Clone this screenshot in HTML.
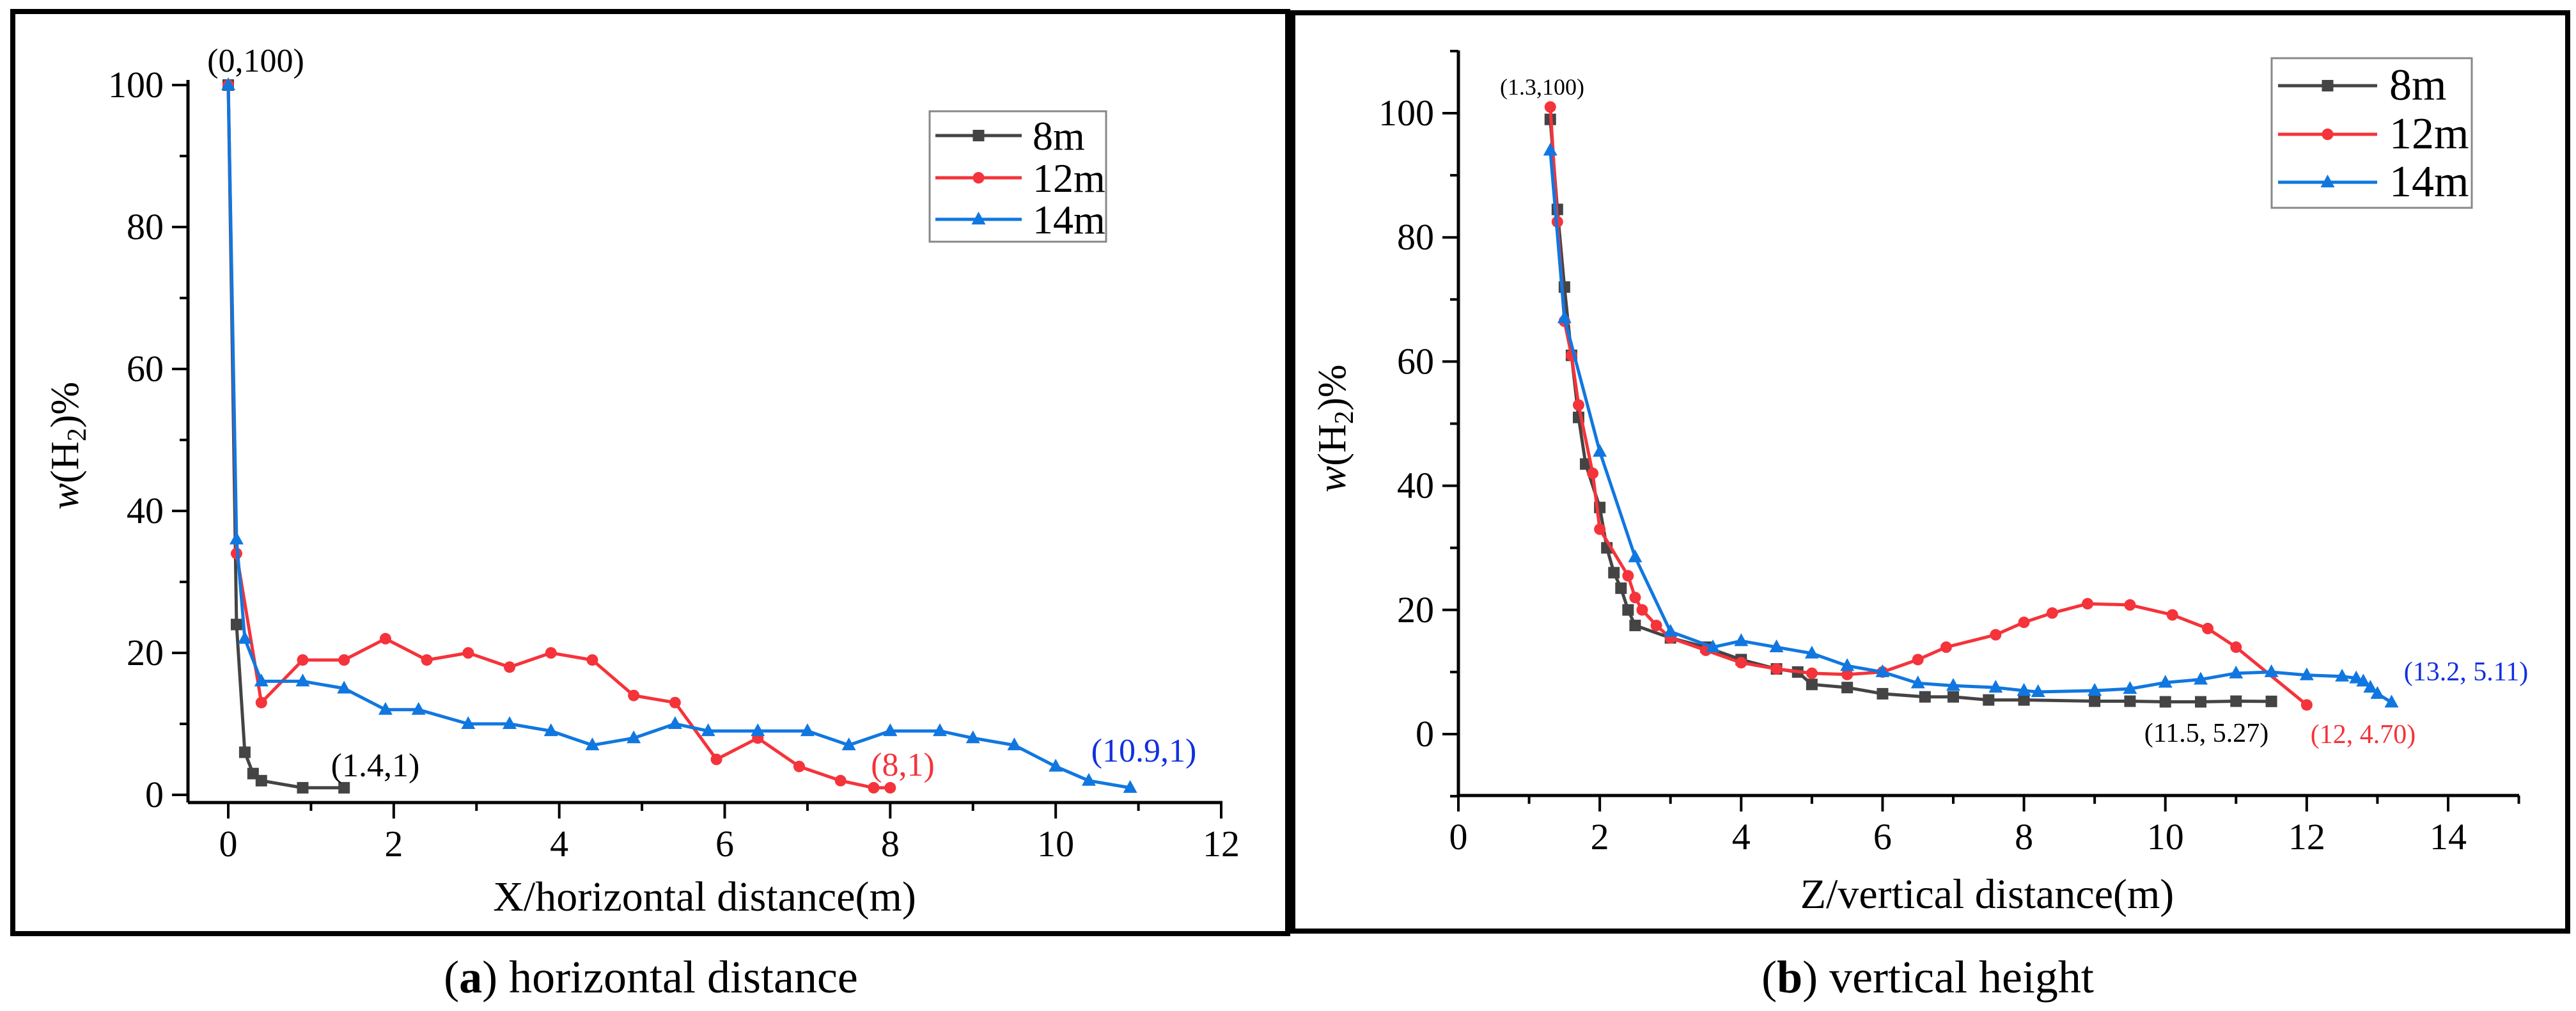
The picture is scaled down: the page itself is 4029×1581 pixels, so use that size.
<!DOCTYPE html>
<html><head><meta charset="utf-8"><style>
html,body{margin:0;padding:0;background:#fff}
svg{display:block;font-family:"Liberation Serif",serif}
text{font-family:"Liberation Serif",serif}
</style></head><body>
<svg id="s" width="4029" height="1581" viewBox="0 0 4029 1581" xmlns="http://www.w3.org/2000/svg" font-family="Liberation Serif, serif">
<rect x="20" y="18" width="1994" height="1442" fill="none" stroke="#000" stroke-width="8"/>
<rect x="2022" y="20" width="1994" height="1436" fill="none" stroke="#000" stroke-width="8"/>
<g id="ga"></g>
<g id="gb"></g>
<text x="1018" y="1552" font-size="72" text-anchor="middle">(<tspan font-weight="bold">a</tspan>) horizontal distance</text>
<text x="3015" y="1552" font-size="72" text-anchor="middle">(<tspan font-weight="bold">b</tspan>) vertical height</text>
</svg>
<script>
const aX8=[0,0.1,0.2,0.3,0.4,0.9,1.4];
const aY8=[100,24,6,3,2,1,1];
const aX12=[0,0.1,0.4,0.9,1.4,1.9,2.4,2.9,3.4,3.9,4.4,4.9,5.4,5.9,6.4,6.9,7.4,7.8,8];
const aY12=[100,34,13,19,19,22,19,20,18,20,19,14,13,5,8,4,2,1,1];
const aX14=[0,0.1,0.2,0.4,0.9,1.4,1.9,2.3,2.9,3.4,3.9,4.4,4.9,5.4,5.8,6.4,7,7.5,8,8.6,9,9.5,10,10.4,10.9];
const aY14=[100,36,22,16,16,15,12,12,10,10,9,7,8,10,9,9,9,7,9,9,8,7,4,2,1];
const bX8=[1.3,1.4,1.5,1.6,1.7,1.8,2,2.1,2.2,2.3,2.4,2.5,3,3.5,4,4.5,4.8,5,5.5,6,6.6,7,7.5,8,9,9.5,10,10.5,11,11.5];
const bY8=[99,84.5,72,61,51,43.5,36.5,30,26,23.5,20,17.5,15.5,14,12,10.5,10,8,7.5,6.5,6,6,5.5,5.5,5.3,5.3,5.2,5.2,5.3,5.27];
const bX12=[1.3,1.4,1.5,1.6,1.7,1.9,2,2.4,2.5,2.6,2.8,3,3.5,4,4.5,5,5.5,6,6.5,6.9,7.6,8,8.4,8.9,9.5,10.1,10.6,11,12];
const bY12=[101,82.5,66.5,61,53,42,33,25.5,22,20,17.5,15.5,13.5,11.5,10.5,9.8,9.6,10,12,14,16,18,19.5,21,20.8,19.2,17,14,4.7];
const bX14=[1.3,1.5,2,2.5,3,3.6,4,4.5,5,5.5,6,6.5,7,7.6,8,8.2,9,9.5,10,10.5,11,11.5,12,12.5,12.7,12.8,12.9,13,13.2];
const bY14=[94,67,45.5,28.5,16.5,14,15,14,13,11,10,8.2,7.8,7.5,7,6.8,7,7.3,8.3,8.8,9.8,10,9.5,9.3,9,8.5,7.5,6.5,5.11];
const aXTicks=["0","2","4","6","8","10","12"];
const aYTicks=["0","20","40","60","80","100"];
const bXTicks=["0","2","4","6","8","10","12","14"];
const bYTicks=["0","20","40","60","80","100"];
const seriesNames=["8m","12m","14m"];
const NS="http://www.w3.org/2000/svg";
const COL=["#444444","#f5333a","#1177e0"];
function mk(p,tag,at,txt){const e=document.createElementNS(NS,tag);for(const k in at)e.setAttribute(k,at[k]);if(txt!==undefined)e.textContent=txt;p.appendChild(e);return e;}
function marker(g,k,x,y,c){
  let e;
  if(k===0){e=mk(g,'rect',{x:x-9,y:y-9,width:18,height:18,fill:c});}
  else if(k===1){e=mk(g,'circle',{cx:x,cy:y,r:9,fill:c});}
  else {e=mk(g,'polygon',{points:`${x},${y-12} ${x+11},${y+8} ${x-11},${y+8}`,fill:c});}
  
  
}
function chart(g,o){
  const sx=v=>o.x0+(v-o.xmin)*(o.x1-o.x0)/(o.xmax-o.xmin);
  const sy=v=>o.y0+(v-o.ymin)*(o.y1-o.y0)/(o.ymax-o.ymin);
  const ax=mk(g,'line',{x1:o.axL,y1:o.axB,x2:o.axR,y2:o.axB,stroke:'#000','stroke-width':5});
  
  const ay=mk(g,'line',{x1:o.axL,y1:o.axB,x2:o.axL,y2:o.axT,stroke:'#000','stroke-width':5});
  
  o.xt.forEach((t,i)=>{const v=+t;const x=sx(v);
    mk(g,'line',{x1:x,y1:o.axB,x2:x,y2:o.axB+25,stroke:'#000','stroke-width':4});
    const m=sx(v+o.xstep/2); if(m<=o.axR+1) mk(g,'line',{x1:m,y1:o.axB,x2:m,y2:o.axB+13,stroke:'#000','stroke-width':4});
    const tl=mk(g,'text',{x:x,y:o.axB+84,'font-size':58,'text-anchor':'middle'},t);
    });
  o.yt.forEach(t=>{const v=+t;const y=sy(v);
    mk(g,'line',{x1:o.axL,y1:y,x2:o.axL-25,y2:y,stroke:'#000','stroke-width':4});
    const tl=mk(g,'text',{x:o.axL-38,y:y+19,'font-size':58,'text-anchor':'end'},t);
    });
  for(let v=o.yminTick;v<=o.ymaxTick;v+=10){if(v%20!==0)mk(g,'line',{x1:o.axL,y1:sy(v),x2:o.axL-13,y2:sy(v),stroke:'#000','stroke-width':4});}
  o.series.forEach((s,k)=>{
    const sg=mk(g,'g',{});
    
    mk(sg,'polyline',{points:s[0].map((x,i)=>sx(x)+','+sy(s[1][i])).join(' '),fill:'none',stroke:COL[k],'stroke-width':5,'stroke-linejoin':'round'});
    s[0].forEach((x,i)=>marker(sg,k,sx(x),sy(s[1][i]),COL[k]));
  });
  const L=o.leg;const lg=mk(g,'g',{});
  
  mk(lg,'rect',{x:L.x,y:L.y,width:L.w,height:L.h,fill:'#fff',stroke:'#888','stroke-width':3});
  seriesNames.forEach((n,k)=>{const y=L.rows[k];
    const e=mk(lg,'g',{});
    mk(e,'line',{x1:L.lx0,y1:y,x2:L.lx1,y2:y,stroke:COL[k],'stroke-width':5});
    marker(e,k,(L.lx0+L.lx1)/2,y,COL[k]);
    mk(e,'text',{x:L.tx,y:y+22,'font-size':L.fs},n);});
  const yt=mk(g,'text',{transform:`translate(${o.ytx},${o.yty}) rotate(-90)`,'font-size':62,'text-anchor':'middle'});
  
  yt.innerHTML='<tspan font-style="italic">w</tspan>(H<tspan font-size="42" dy="12">2</tspan><tspan dy="-12">)%</tspan>';
  const xt=mk(g,'text',{x:o.xtx,y:o.xty,'font-size':66,'text-anchor':'middle'},o.xtitle);
  
  o.ann.forEach(a=>{const t=mk(g,'text',{x:a[0],y:a[1],'font-size':a[4],'text-anchor':'middle',fill:a[3]},a[2]);
    });
}
chart(document.getElementById('ga'),{x0:357,x1:1910,xmin:0,xmax:12,y0:1243,y1:133,ymin:0,ymax:100,
  axL:294,axR:1912,axB:1255,axT:125,xstep:2,yminTick:0,ymaxTick:100,xt:aXTicks,yt:aYTicks,
  series:[[aX8,aY8],[aX12,aY12],[aX14,aY14]],
  leg:{x:1454,y:174,w:276,h:204,rows:[212,278,343],lx0:1463,lx1:1598,tx:1615,fs:64},
  ytx:122,yty:697,xtx:1102,xty:1424,xtitle:'X/horizontal distance(m)',
  ann:[[400,112,'(0,100)','#000',52],[587,1214,'(1.4,1)','#000',52],[1412,1213,'(8,1)','#f5333a',52],[1789,1191,'(10.9,1)','#1030e0',52]]});
chart(document.getElementById('gb'),{x0:2281,x1:3829,xmin:0,xmax:14,y0:1148,y1:177,ymin:0,ymax:100,
  axL:2281,axR:3940,axB:1244,axT:79,xstep:2,yminTick:-10,ymaxTick:110,xt:bXTicks,yt:bYTicks,
  series:[[bX8,bY8],[bX12,bY12],[bX14,bY14]],
  leg:{x:3553,y:91,w:313,h:234,rows:[134,210,285],lx0:3563,lx1:3718,tx:3737,fs:70},
  ytx:2104,yty:670,xtx:3108,xty:1420,xtitle:'Z/vertical distance(m)',
  ann:[[2412,148,'(1.3,100)','#000',36],[3857,1064,'(13.2, 5.11)','#1030e0',42],[3451,1160,'(11.5, 5.27)','#000',42],[3696,1162,'(12, 4.70)','#f5333a',42]]});
</script>
</body></html>
